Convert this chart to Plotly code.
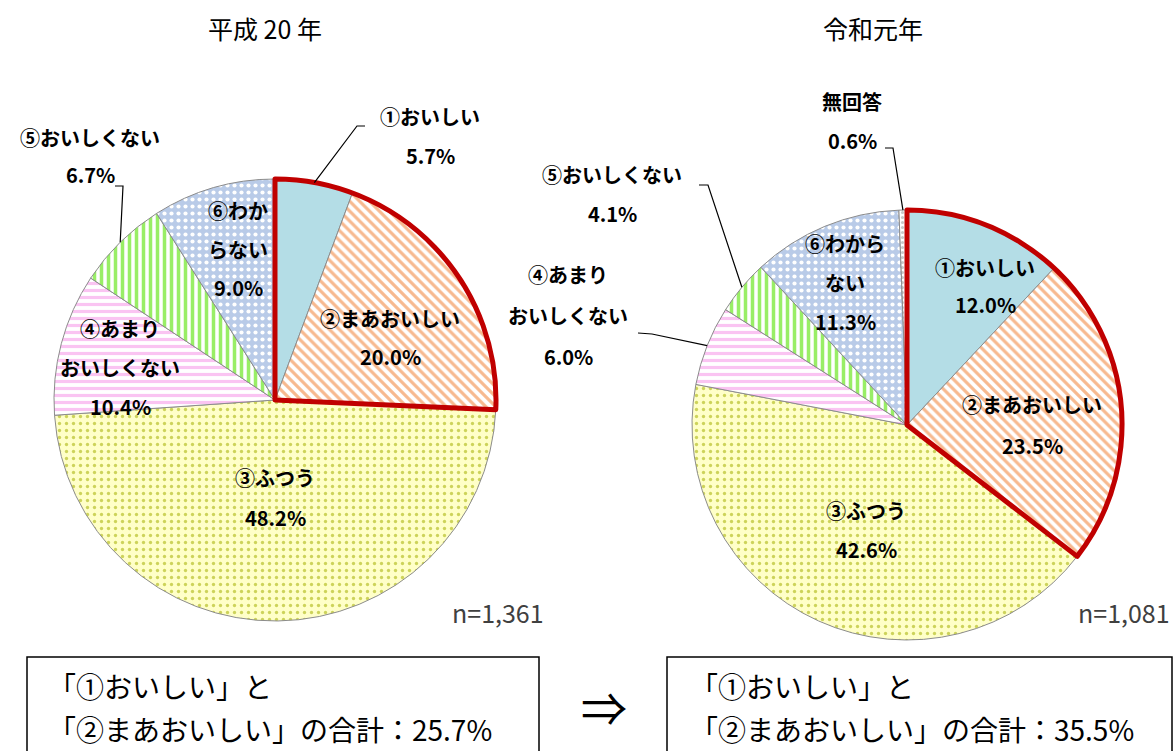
import math
import plotly.graph_objects as go

W, H = 1176, 751

# ---------------- data ----------------
categories_h20 = ["①おいしい", "②まあおいしい", "③ふつう", "④あまりおいしくない", "⑤おいしくない", "⑥わからない"]
values_h20 = [5.7, 20.0, 48.2, 10.4, 6.7, 9.0]
label_lines_h20 = [["①おいしい"], ["②まあおいしい"], ["③ふつう"], ["④あまり", "おいしくない"],
                   ["⑤おいしくない"], ["⑥わか", "らない"]]

categories_r1 = ["①おいしい", "②まあおいしい", "③ふつう", "④あまりおいしくない", "⑤おいしくない", "⑥わからない", "無回答"]
values_r1 = [12.0, 23.5, 42.6, 6.0, 4.1, 11.3, 0.6]
label_lines_r1 = [["①おいしい"], ["②まあおいしい"], ["③ふつう"], ["④あまり", "おいしくない"],
                  ["⑤おいしくない"], ["⑥わから", "ない"], ["無回答"]]

titles = ["平成 20 年", "令和元年"]
n_labels = ["n=1,361", "n=1,081"]
total_h20 = 25.7
total_r1 = 35.5

# ---------------- styles ----------------
FONT_B = "Noto Sans CJK JP"
base_colors = ["#B4DDE6", "#FFFFFF", "#FFFFC8", "#FFFFFF", "#FFFFFF", "#B9CBE8", "#FFFFFF"]
pat_shape = ["", "\\", ".", "-", "|", ".", "."]
pat_fg = ["#B4DDE6", "#F7B98F", "#CDD35A", "#FAC4F2", "#99EE66", "#FFFFFF", "#C8C8C8"]
pat_bg = ["#B4DDE6", "#FFFFFF", "#FFFFC8", "#FFFFFF", "#FFFFFF", "#B9CBE8", "#FFFFFF"]
pat_size = [6, 7, 7, 7, 7, 7, 5]
pat_sol = [0.3, 0.45, 0.18, 0.45, 0.5, 0.28, 0.3]

pies = [
    dict(cx=275, cy=400, r=221, values=values_h20, cats=categories_h20),
    dict(cx=907, cy=425, r=215, values=values_r1, cats=categories_r1),
]


def px(x):
    return x / W


def py(y):
    return 1 - y / H


fig = go.Figure()

for i, p in enumerate(pies):
    n = len(p["values"])
    dom = dict(x=[px(p["cx"] - p["r"]), px(p["cx"] + p["r"])],
               y=[py(p["cy"] + p["r"]), py(p["cy"] - p["r"])])
    fig.add_trace(go.Pie(
        values=p["values"], labels=p["cats"], sort=False, direction="clockwise", rotation=0,
        textinfo="none", hoverinfo="skip", showlegend=False, domain=dom,
        marker=dict(colors=base_colors[:n], line=dict(color="#8C8C8C", width=1),
                    pattern=dict(shape=pat_shape[:n], fgcolor=pat_fg[:n], bgcolor=pat_bg[:n],
                                 size=pat_size[:n], solidity=pat_sol[:n], fillmode="replace")),
    ))
    sel = p["values"][0] + p["values"][1]
    rest = sum(p["values"][2:])
    fig.add_trace(go.Pie(
        values=[sel, rest], labels=[f"sel{i}", f"rest{i}"], sort=False, direction="clockwise",
        rotation=0, textinfo="none", hoverinfo="skip", showlegend=False, domain=dom,
        marker=dict(colors=["rgba(0,0,0,0)", "rgba(0,0,0,0)"],
                    line=dict(color=["#C00000", "rgba(0,0,0,0)"], width=[5, 0])),
    ))

annotations = []
shapes = []


def txt(x, y, s, size=20, bold=True, xanchor="center", color="#000000", family=FONT_B):
    annotations.append(dict(
        x=px(x), y=py(y), xref="paper", yref="paper", text=s, showarrow=False,
        xanchor=xanchor, yanchor="middle",
        font=dict(family=family, size=size, color=color, weight="bold" if bold else "normal"),
    ))


def label(x, y0, lines, value, gap=39):
    for k, ln in enumerate(lines):
        txt(x, y0 + k * gap, ln)
    txt(x, y0 + len(lines) * gap, f"{value:.1f}%")


def edge_point(p, idx):
    tot = sum(p["values"])
    mid = (sum(p["values"][:idx]) + p["values"][idx] / 2) / tot
    ang = 2 * math.pi * mid
    return p["cx"] + p["r"] * math.sin(ang), p["cy"] - p["r"] * math.cos(ang)


def leader(p, idx, elbow, end):
    ex, ey = edge_point(p, idx)
    path = f"M {px(ex)},{py(ey)} L {px(elbow[0])},{py(elbow[1])} L {px(end[0])},{py(end[1])}"
    shapes.append(dict(type="path", path=path, xref="paper", yref="paper",
                       line=dict(color="#000000", width=1.2)))


# titles
txt(265, 28, titles[0], size=25, bold=False)
txt(873, 28, titles[1], size=25, bold=False)

# left pie labels
L, R = pies
label(430, 116, label_lines_h20[0], values_h20[0], gap=40)
label(390, 318, label_lines_h20[1], values_h20[1], gap=38)
label(275, 477, label_lines_h20[2], values_h20[2], gap=40)
label(120, 328, label_lines_h20[3], values_h20[3], gap=39)
label(90, 137, label_lines_h20[4], values_h20[4], gap=38)
label(238, 211, label_lines_h20[5], values_h20[5], gap=38)
leader(L, 0, (357, 126), (365, 126))
leader(L, 4, (123, 186), (115, 186))

# right pie labels
label(985, 267, label_lines_r1[0], values_r1[0], gap=38)
label(1032, 405, label_lines_r1[1], values_r1[1], gap=40)
label(866, 510, label_lines_r1[2], values_r1[2], gap=39)
label(568, 274, label_lines_r1[3], values_r1[3], gap=41)
label(612, 174, label_lines_r1[4], values_r1[4], gap=39)
label(845, 243, label_lines_r1[5], values_r1[5], gap=39)
label(852, 101, label_lines_r1[6], values_r1[6], gap=39)
leader(R, 3, (652, 334), (638, 333))
leader(R, 4, (708, 185), (699, 185))
leader(R, 6, (893, 148), (885, 148))

# n labels
txt(546, 612, n_labels[0], size=25, bold=False, xanchor="right", color="#404040")
txt(1172, 612, n_labels[1], size=25, bold=False, xanchor="right", color="#404040")

# bottom boxes
shapes.append(dict(type="rect", xref="paper", yref="paper", x0=px(27), x1=px(539), y0=py(765), y1=py(657),
                   line=dict(color="#000000", width=1.5)))
shapes.append(dict(type="rect", xref="paper", yref="paper", x0=px(667), x1=px(1172), y0=py(765), y1=py(657),
                   line=dict(color="#000000", width=1.5)))
txt(46, 686, "「①おいしい」と", size=28, bold=False, xanchor="left")
txt(46, 729, f"「②まあおいしい」の合計：{total_h20:.1f}%", size=28, bold=False, xanchor="left")
txt(688, 686, "「①おいしい」と", size=28, bold=False, xanchor="left")
txt(688, 729, f"「②まあおいしい」の合計：{total_r1:.1f}%", size=28, bold=False, xanchor="left")
txt(604, 706, "⇒", size=46, bold=False)

fig.update_layout(
    width=W, height=H, margin=dict(l=0, r=0, t=0, b=0),
    paper_bgcolor="#FFFFFF", plot_bgcolor="#FFFFFF",
    annotations=annotations, shapes=shapes, showlegend=False,
)

fig.write_html("out.html")
